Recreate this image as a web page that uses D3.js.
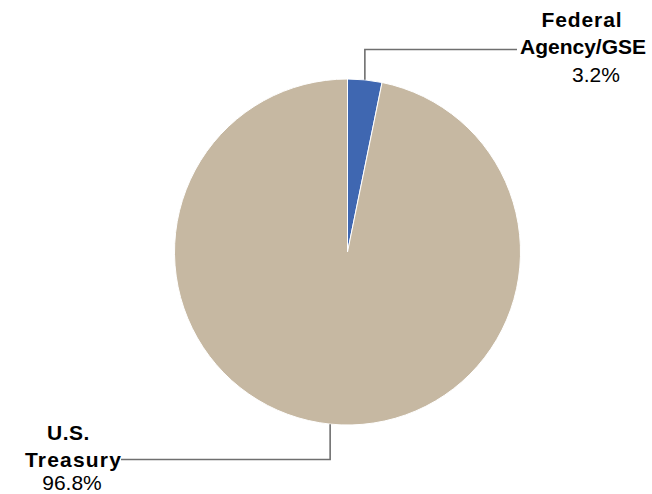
<!DOCTYPE html>
<html>
<head>
<meta charset="utf-8">
<script src="https://cdn.jsdelivr.net/npm/d3@7/dist/d3.min.js"></script>
<style>
  html, body { margin: 0; padding: 0; background: #ffffff; }
  svg { display: block; }
  text { font-family: "Liberation Sans", Arial, sans-serif; fill: #000; }
</style>
</head>
<body>
<svg id="chart" width="652" height="494"></svg>
<script>
// Portfolio composition by security type
const categories = ["Federal Agency/GSE", "U.S. Treasury"];
const shares = [3.2, 96.8];
const labelLines = [["Federal", "Agency/GSE"], ["U.S.", "Treasury"]];
const valueLabels = ["3.2%", "96.8%"];
const colors = ["#3F67B1", "#C6B8A2"];

const width = 652, height = 494;
const cx = 347.5, cy = 252, radius = 173;

const svg = d3.select("#chart");
const g = svg.append("g").attr("transform", `translate(${cx},${cy})`);

const data = categories.map((c, i) => ({ name: c, value: shares[i], i }));
const pie = d3.pie().sort(null).value(d => d.value);
const arcs = pie(data);
const arc = d3.arc().innerRadius(0).outerRadius(radius);

g.selectAll("path.slice")
  .data(arcs)
  .join("path")
  .attr("class", "slice")
  .attr("d", arc)
  .attr("fill", d => colors[d.data.i])
  .attr("stroke", "#ffffff")
  .attr("stroke-width", 1);

// Point on the rim at each slice's mid-angle
function rimPoint(d) {
  const a = (d.startAngle + d.endAngle) / 2;
  return [radius * Math.sin(a), -radius * Math.cos(a)];
}

// Label placement: elbow y (relative to centre), line end x, text anchors
const layout = [
  { elbowY: 49.5 - cy, endX: 517 - cx,
    lines: [{ x: 582, y: 26.5, ls: 0.9 }, { x: 583, y: 54, ls: 0 }], pct: { x: 596, y: 82 } },
  { elbowY: 459.5 - cy, endX: 121 - cx,
    lines: [{ x: 68.5, y: 439.5, ls: 0.5 }, { x: 73.5, y: 467, ls: 1.2 }], pct: { x: 72, y: 489.5 } }
];

arcs.forEach((d, k) => {
  const [px, py] = rimPoint(d);
  const L = layout[k];
  g.append("path")
    .attr("d", `M${px},${py} V${L.elbowY} H${L.endX}`)
    .attr("fill", "none")
    .attr("stroke", "#6f6f6f")
    .attr("stroke-width", 1.6);

  labelLines[k].forEach((t, j) => {
    svg.append("text")
      .attr("x", L.lines[j].x)
      .attr("y", L.lines[j].y)
      .attr("text-anchor", "middle")
      .attr("font-size", 21)
      .attr("font-weight", "bold")
      .attr("letter-spacing", L.lines[j].ls)
      .text(t);
  });
  svg.append("text")
    .attr("x", L.pct.x)
    .attr("y", L.pct.y)
    .attr("text-anchor", "middle")
    .attr("font-size", 21)
    .text(valueLabels[k]);
});
</script>
</body>
</html>
